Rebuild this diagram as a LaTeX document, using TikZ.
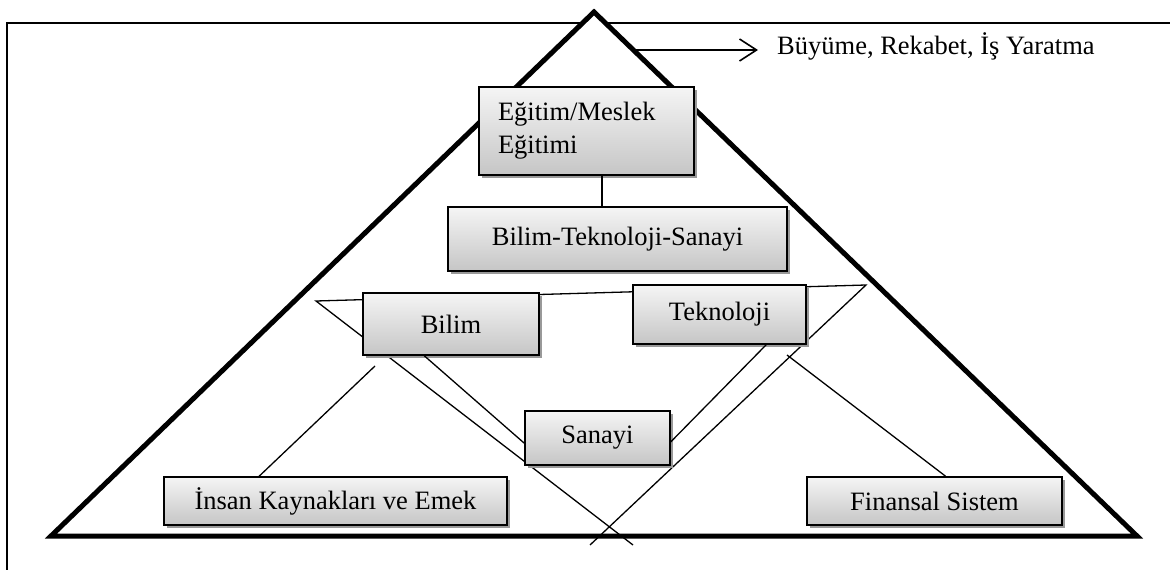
\documentclass[tikz,border=0pt]{standalone}
\usepackage{fontspec}
\setmainfont{Liberation Serif}
\usetikzlibrary{shadows,arrows.meta}
\tikzstyle{box}=[draw, rectangle, line width=1.6pt, inner sep=0pt,
  top color=gray!8, bottom color=gray!45,
  drop shadow={shadow xshift=3pt, shadow yshift=-3pt, fill=gray!80, opacity=1},
  font=\fontsize{26.5}{33}\selectfont]
\tikzstyle{link}=[line width=1.3pt]

\begin{document}
\begin{tikzpicture}[x=1pt, y=-1pt, >={Straight Barb[length=17pt,width=22pt,line width=1.6pt]}]
  \useasboundingbox (0,0) rectangle (1170,570);
  \begin{scope}
    \clip (0,0) rectangle (1170,570);
    \draw[line width=2.5pt] (7,23) rectangle (1200,600);
  \end{scope}

  \coordinate (top) at (594,12);
  \coordinate (bl) at (51,536);
  \coordinate (br) at (1137,536);
  \draw[line width=5pt, fill=white] (top) -- (bl) -- (br) -- cycle;

  \coordinate (vl) at (316,301);
  \coordinate (vr) at (866,285);
  \coordinate (xl) at (633,545);
  \coordinate (xr) at (590,545);
  \draw[link] (xl) -- (vl) -- (vr) -- (xr);

  \node[box, inner xsep=19pt, text width=177pt, minimum height=88pt, align=left] (egitim) at (586.5,131) {Eğitim/Meslek\\Eğitimi};
  \node[box, minimum width=339pt, minimum height=64pt] (bts) at (617.5,239) {Bilim-Teknoloji-Sanayi};
  \node[box, minimum width=176pt, minimum height=62pt] (bilim) at (451,324) {Bilim};
  \node[box, minimum width=173pt, minimum height=59pt] (tek) at (719.5,314.5) {Teknoloji};
  \node[box, minimum width=145pt, minimum height=54pt] (sanayi) at (597.5,438) {Sanayi};
  \node[box, minimum width=343pt, minimum height=48pt] (insan) at (335.5,501) {İnsan Kaynakları ve Emek};
  \node[box, minimum width=255pt, minimum height=48pt] (finans) at (934.5,501) {Finansal Sistem};

  \draw[link] (egitim.-71) -- (egitim.-71 |- bts.north);
  \draw[link] (bilim.230) -- (sanayi.184);
  \draw[link] (tek.327) -- (sanayi.-3);

  \coordinate (fl) at (375,366);
  \coordinate (fr) at (787,355);
  \draw[link] (fl) -- (insan.162);
  \draw[link] (fr) -- (finans.66);

  \coordinate (tip) at (635,50);
  \node[anchor=base west, inner sep=0pt, font=\fontsize{26.5}{30}\selectfont] (growth) at (777,54) {Büyüme, Rekabet, İş Yaratma};
  \draw[link, ->, shorten >=19pt] (tip) -- (tip -| growth.west);
\end{tikzpicture}
\end{document}
